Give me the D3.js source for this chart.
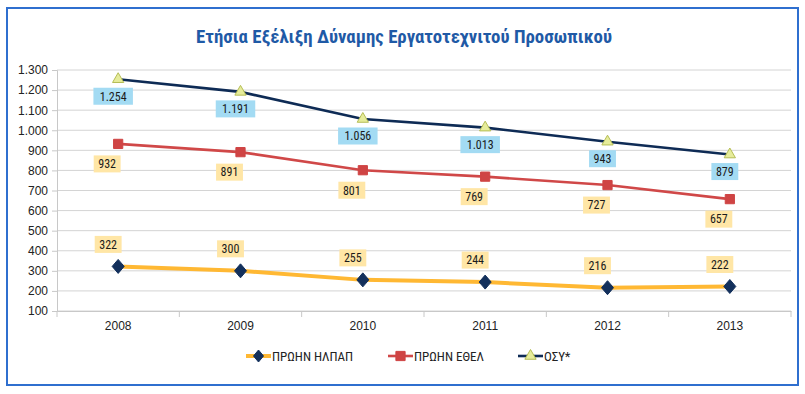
<!DOCTYPE html>
<html><head><meta charset="utf-8">
<script src="https://cdn.jsdelivr.net/npm/d3@7"></script>
<style>
body{margin:0;background:#fff;}
svg{display:block;font-family:"Liberation Sans Narrow","Arial Narrow","Roboto Condensed",Roboto,sans-serif;}
</style></head><body>
<svg id="c" width="805" height="394"></svg>
<script>
const title = "Ετήσια Εξέλιξη Δύναμης Εργατοτεχνιτού Προσωπικού";
const years = ["2008","2009","2010","2011","2012","2013"];
const ilpap = [322,300,255,244,216,222];
const ethel = [932,891,801,769,727,657];
const osy = [1254,1191,1056,1013,943,879];
const seriesNames = ["ΠΡΩΗΝ ΗΛΠΑΠ","ΠΡΩΗΝ ΕΘΕΛ","ΟΣΥ*"];
const yTicks = [100,200,300,400,500,600,700,800,900,1000,1100,1200,1300];

const svg = d3.select("#c");
const fmt = v => d3.format(",")(v).replace(/,/g,".");

svg.append("rect").attr("x",7).attr("y",8).attr("width",791).attr("height",377)
  .attr("fill","#fff").attr("stroke","#2f6fcf").attr("stroke-width",2);

svg.append("text").attr("x",404).attr("y",43).attr("text-anchor","middle")
  .attr("font-size",19).attr("font-weight","bold").attr("fill","#1f5aa6")
  .attr("textLength",416).attr("lengthAdjust","spacingAndGlyphs").text(title);

const x = d3.scaleBand().domain(years).range([57,791]);
const y = d3.scaleLinear().domain([100,1300]).range([311,70]);

svg.append("g").selectAll("line").data(yTicks).join("line")
  .attr("x1",57).attr("x2",791).attr("y1",d=>y(d)).attr("y2",d=>y(d))
  .attr("stroke","#d4d4d4").attr("stroke-width",1);

const yAxis = svg.append("g").attr("transform","translate(57,0)")
  .call(d3.axisLeft(y).tickValues(yTicks).tickFormat(fmt).tickSize(5).tickPadding(4));
yAxis.select(".domain").attr("stroke","#c8c8c8");
yAxis.selectAll(".tick line").attr("stroke","#c8c8c8");
yAxis.selectAll("text").attr("font-size",12).attr("fill","#222");

const xAxis = svg.append("g").attr("transform","translate(0,311)")
  .call(d3.axisBottom(x).tickSize(0).tickPadding(10));
xAxis.select(".domain").attr("stroke","#c8c8c8");
xAxis.selectAll("text").attr("font-size",12).attr("fill","#222");
svg.append("g").selectAll("line").data(years.concat(["end"])).join("line")
  .attr("x1",(d,i)=>57+i*x.step()).attr("x2",(d,i)=>57+i*x.step())
  .attr("y1",311).attr("y2",317).attr("stroke","#c8c8c8");

const cx = d => x(d)+x.bandwidth()/2;
const line = d3.line().x((d,i)=>cx(years[i])).y(d=>y(d));

const colors = {ilpap:"#ffb833", ethel:"#d04848", osy:"#0e2b55"};

svg.append("path").datum(ilpap).attr("d",line).attr("fill","none").attr("stroke",colors.ilpap).attr("stroke-width",4);
svg.append("path").datum(ethel).attr("d",line).attr("fill","none").attr("stroke",colors.ethel).attr("stroke-width",2.6);
svg.append("path").datum(osy).attr("d",line).attr("fill","none").attr("stroke",colors.osy).attr("stroke-width",2.6);

const diamondPath = (hw,hh) => `M0,${-hh}L${hw},0L0,${hh}L${-hw},0Z`;
const diamond = diamondPath(6,7);
const diamondSmall = diamondPath(5,6);
const square = d3.symbol().type(d3.symbolSquare).size(85)();
const tri = d3.symbol().type(d3.symbolTriangle).size(55)();

function markers(data, sym, fill, stroke){
  svg.append("g").selectAll("path").data(data).join("path")
    .attr("d",sym).attr("transform",(d,i)=>`translate(${cx(years[i])},${y(d)})`)
    .attr("fill",fill).attr("stroke",stroke).attr("stroke-width",1);
}
markers(ilpap, diamond, "#13305c", "#13305c");
markers(ethel, square, "#cf4444", "#cf4444");
markers(osy, tri, "#e6ec9a", "#b5bd55");

function labels(data, dx, dy, fill){
  const g = svg.append("g");
  data.forEach((v,i)=>{
    const t = fmt(v);
    const w = t.length*6.3+8;
    const lx = cx(years[i])+dx, ly = y(v)+dy;
    g.append("rect").attr("x",lx-w/2).attr("y",ly-8.5).attr("width",w).attr("height",17).attr("fill",fill);
    g.append("text").attr("x",lx).attr("y",ly+4.3).attr("text-anchor","middle")
      .attr("font-size",12).attr("fill","#1a1a1a").text(t);
  });
}
labels(ilpap, -10, -22, "#ffe6a6");
labels(ethel, -11, 20, "#ffe6a6");
labels(osy, -5, 17, "#a3dbf3");

const leg = [
  {name:seriesNames[0], color:colors.ilpap, sym:diamondSmall, fill:"#13305c", stroke:"#13305c", w:4, x:246},
  {name:seriesNames[1], color:colors.ethel, sym:square, fill:"#cf4444", stroke:"#cf4444", w:2.6, x:388},
  {name:seriesNames[2], color:colors.osy, sym:tri, fill:"#e6ec9a", stroke:"#b5bd55", w:2.6, x:518}
];
const lg = svg.append("g");
leg.forEach(d=>{
  lg.append("line").attr("x1",d.x).attr("x2",d.x+25).attr("y1",356).attr("y2",356).attr("stroke",d.color).attr("stroke-width",d.w);
  lg.append("path").attr("d",d.sym).attr("transform",`translate(${d.x+12.5},356)`).attr("fill",d.fill).attr("stroke",d.stroke);
  lg.append("text").attr("x",d.x+26).attr("y",360.5).attr("font-size",13).attr("fill","#222").text(d.name);
});
</script></body></html>
